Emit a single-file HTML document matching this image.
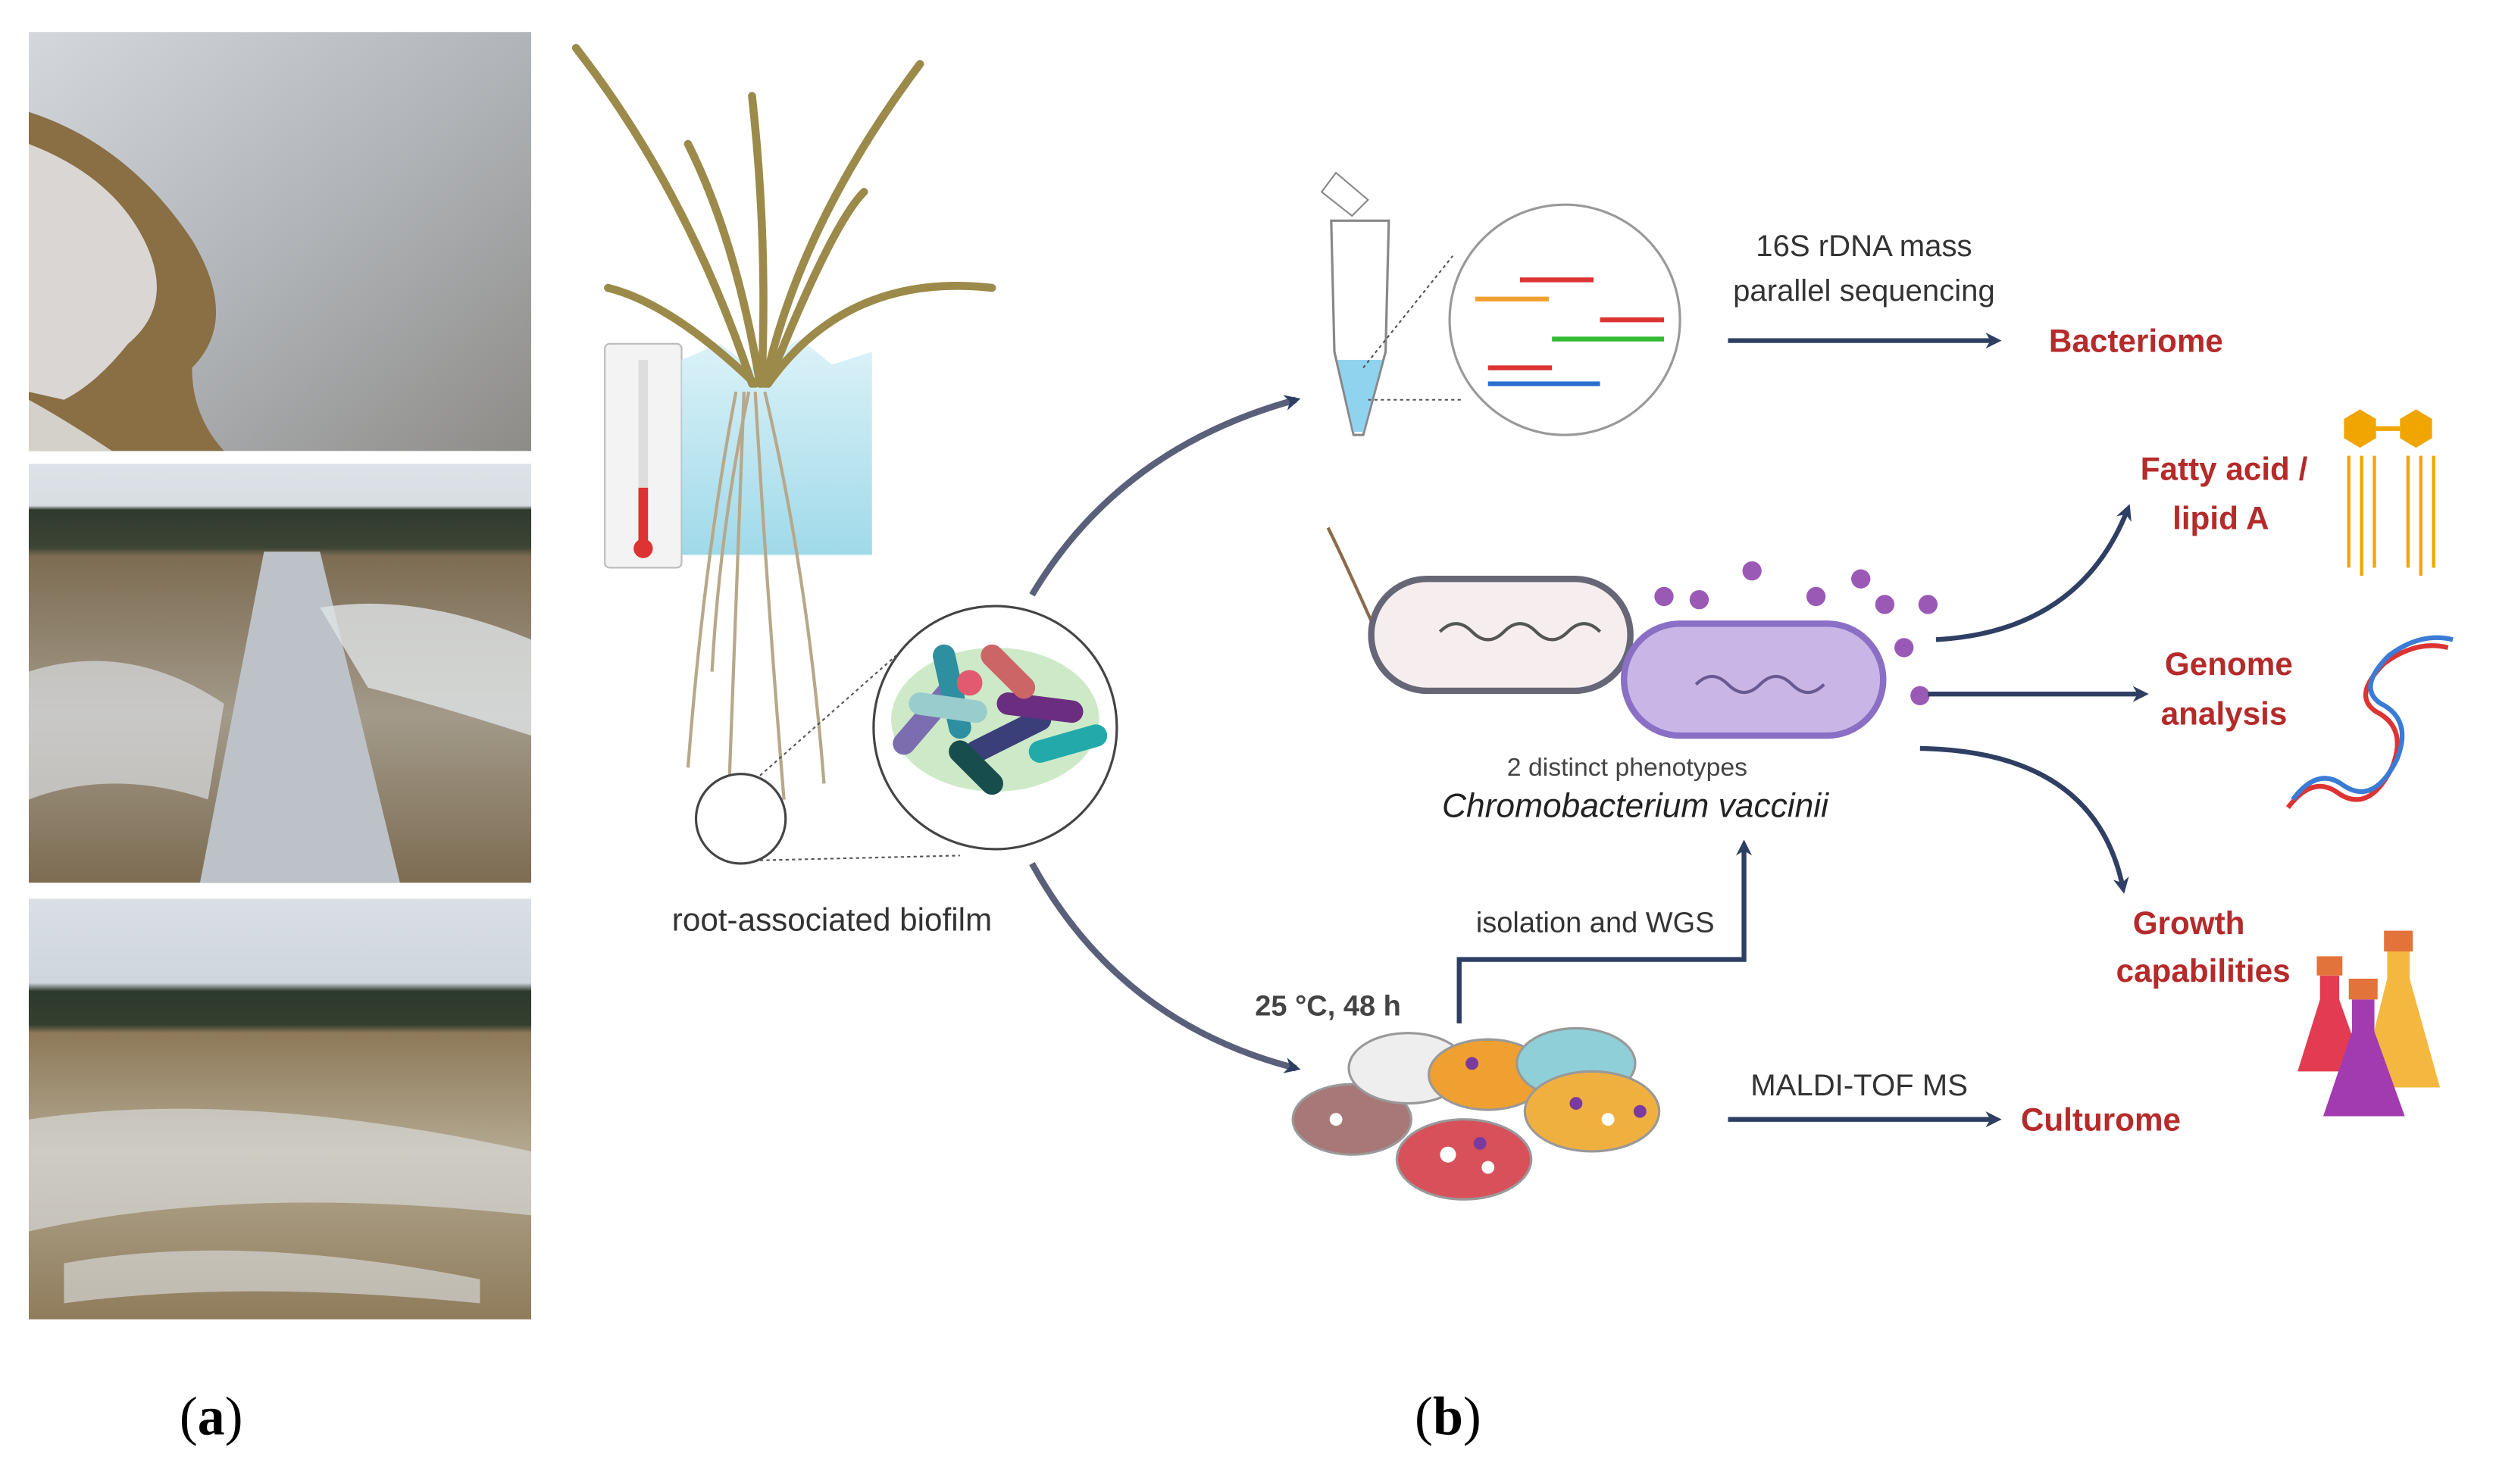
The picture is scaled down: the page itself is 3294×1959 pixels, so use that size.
<!DOCTYPE html>
<html><head><meta charset="utf-8"><style>
html,body{margin:0;padding:0;background:#fff}
svg{display:block}
</style></head><body>
<svg width="3294" height="1959" viewBox="0 0 1560 928" preserveAspectRatio="none" xmlns="http://www.w3.org/2000/svg" font-family="Liberation Sans, sans-serif">
<defs>
<linearGradient id="p1" x1="0" y1="0" x2="1" y2="1"><stop offset="0" stop-color="#d4d8dc"/><stop offset=".5" stop-color="#b1b5b9"/><stop offset="1" stop-color="#8e8c88"/></linearGradient>
<linearGradient id="p2" x1="0" y1="0" x2="0" y2="1"><stop offset="0" stop-color="#dde3e8"/><stop offset=".1" stop-color="#d8dde2"/><stop offset=".11" stop-color="#2f3a2e"/><stop offset=".2" stop-color="#3d4434"/><stop offset=".22" stop-color="#7d6c52"/><stop offset=".6" stop-color="#a39a8a"/><stop offset="1" stop-color="#7d6c52"/></linearGradient>
<linearGradient id="p3" x1="0" y1="0" x2="0" y2="1"><stop offset="0" stop-color="#d9dfe4"/><stop offset=".2" stop-color="#cfd6dc"/><stop offset=".22" stop-color="#2c3a2c"/><stop offset=".3" stop-color="#34402f"/><stop offset=".32" stop-color="#8e7a5a"/><stop offset=".6" stop-color="#b3a890"/><stop offset="1" stop-color="#8f7c5c"/></linearGradient>
<linearGradient id="ice" x1="0" y1="0" x2="0" y2="1"><stop offset="0" stop-color="#d6f0f7"/><stop offset="1" stop-color="#8fd3e6"/></linearGradient>
<marker id="ah" markerWidth="10" markerHeight="10" refX="7" refY="5" orient="auto" markerUnits="userSpaceOnUse"><path d="M0,0 L10,5 L0,10 L3,5 Z" fill="#2e3f63"/></marker>
</defs>

<!-- photos -->
<rect x="18" y="20" width="314" height="262" fill="url(#p1)"/>
<path d="M18,70 Q80,90 120,150 Q150,200 120,230 Q120,260 140,282 L18,282Z" fill="#8a6e44"/>
<path d="M18,90 Q70,110 90,150 Q110,190 80,215 Q60,240 40,250 L18,245Z" fill="#e6e9ec" opacity=".85"/>
<path d="M18,250 Q40,262 70,282 L18,282Z" fill="#e6e9ec" opacity=".8"/>
<rect x="18" y="290" width="314" height="262" fill="url(#p2)"/>
<path d="M165,345 L200,345 L250,552 L125,552Z" fill="#bcc2c7"/>
<path d="M200,380 Q260,370 332,400 L332,460 Q270,440 230,430Z" fill="#dfe3e6" opacity=".8"/>
<path d="M18,420 Q80,400 140,440 L130,500 Q70,480 18,500Z" fill="#d8dcdf" opacity=".7"/>
<rect x="18" y="562" width="314" height="263" fill="url(#p3)"/>
<path d="M18,700 Q150,680 332,720 L332,760 Q150,740 18,770Z" fill="#dfe3e6" opacity=".6"/>
<path d="M40,790 Q150,770 300,800 L300,815 Q150,800 40,815Z" fill="#dfe3e6" opacity=".6"/>

<!-- thermometer -->
<rect x="378" y="215" width="48" height="140" rx="3" fill="#f3f3f3" stroke="#bbb"/>
<rect x="399" y="225" width="6" height="115" fill="#ddd"/>
<rect x="399" y="305" width="6" height="35" fill="#d33"/>
<circle cx="402" cy="343" r="6" fill="#d33"/>
<!-- ice -->
<path d="M426,225 L450,215 L470,230 L500,212 L520,228 L545,220 L545,347 L426,347Z" fill="url(#ice)" opacity=".85"/>
<!-- plant leaves -->
<g stroke="#9c8a4a" stroke-width="5" fill="none" stroke-linecap="round">
<path d="M470,240 Q430,120 360,30"/><path d="M475,240 Q460,150 430,90"/><path d="M478,240 Q500,140 575,40"/>
<path d="M480,240 Q530,170 620,180"/><path d="M472,240 Q420,190 380,180"/><path d="M476,240 Q480,150 470,60"/>
<path d="M480,240 Q520,140 540,120"/>
</g>
<g stroke="#b7a88a" stroke-width="2" fill="none">
<path d="M460,245 Q440,350 430,480"/><path d="M465,245 Q460,380 455,510"/><path d="M472,245 Q480,380 490,500"/>
<path d="M478,245 Q505,360 515,490"/><path d="M468,245 Q450,330 445,420"/>
</g>
<circle cx="463" cy="512" r="28" fill="#fff" stroke="#444" stroke-width="1.5"/>
<line x1="475" y1="485" x2="560" y2="410" stroke="#555" stroke-dasharray="2,2"/>
<line x1="475" y1="538" x2="600" y2="535" stroke="#555" stroke-dasharray="2,2"/>
<circle cx="622" cy="455" r="76" fill="#fff" stroke="#444" stroke-width="1.5"/>
<ellipse cx="622" cy="450" rx="65" ry="45" fill="#cde9c7"/>
<g stroke-linecap="round" stroke-width="14">
<line x1="565" y1="465" x2="595" y2="430" stroke="#7b6db0"/><line x1="590" y1="410" x2="600" y2="455" stroke="#2d8f9f"/>
<line x1="610" y1="470" x2="650" y2="450" stroke="#3a3f7a"/><line x1="630" y1="440" x2="670" y2="445" stroke="#6b2d80"/>
<line x1="620" y1="410" x2="640" y2="430" stroke="#c66"/><line x1="650" y1="470" x2="685" y2="460" stroke="#2aa"/>
<line x1="575" y1="440" x2="610" y2="445" stroke="#9cc"/><line x1="600" y1="470" x2="620" y2="490" stroke="#184d4d"/>
</g>
<circle cx="606" cy="427" r="8" fill="#e25a6f"/>
<text x="520" y="582" font-size="20" text-anchor="middle" fill="#333">root-associated biofilm</text>

<path d="M645,372 Q700,280 810,250" stroke="#5a5f7a" stroke-width="4" fill="none" marker-end="url(#ah)"/>
<path d="M645,540 Q700,640 810,668" stroke="#5a5f7a" stroke-width="4" fill="none" marker-end="url(#ah)"/>

<!-- tube -->
<path d="M826,120 L835,108 L855,125 L845,135Z" fill="#fff" stroke="#888"/>
<path d="M832,138 L868,138 L866,220 L852,272 L846,272 L834,220Z" fill="#fff" stroke="#888" stroke-width="1.5"/>
<path d="M836,225 L864,225 L852,270 L846,270Z" fill="#8fd3ef"/>
<line x1="852" y1="230" x2="908" y2="160" stroke="#555" stroke-dasharray="2,2"/>
<line x1="855" y1="250" x2="915" y2="250" stroke="#555" stroke-dasharray="2,2"/>
<circle cx="978" cy="200" r="72" fill="#fff" stroke="#999" stroke-width="1.5"/>
<g stroke-width="3"><line x1="922" y1="187" x2="968" y2="187" stroke="#f0a030"/><line x1="950" y1="175" x2="996" y2="175" stroke="#d33"/>
<line x1="970" y1="212" x2="1040" y2="212" stroke="#3b3"/><line x1="1000" y1="200" x2="1040" y2="200" stroke="#d33"/>
<line x1="930" y1="240" x2="1000" y2="240" stroke="#2a6fd0"/><line x1="930" y1="230" x2="970" y2="230" stroke="#d33"/></g>

<text x="1165" y="160" font-size="19" text-anchor="middle" fill="#333">16S rDNA mass</text>
<text x="1165" y="188" font-size="19" text-anchor="middle" fill="#333">parallel sequencing</text>
<line x1="1080" y1="213" x2="1248" y2="213" stroke="#2e3f63" stroke-width="3" marker-end="url(#ah)"/>
<text x="1335" y="220" font-size="20" font-weight="bold" text-anchor="middle" fill="#b52a2a">Bacteriome</text>

<!-- bacteria -->
<path d="M860,395 Q840,350 830,330" stroke="#8a6a4a" stroke-width="2" fill="none"/>
<rect x="857" y="362" width="162" height="70" rx="35" fill="#f6eeee" stroke="#667" stroke-width="4"/>
<rect x="1015" y="390" width="162" height="70" rx="35" fill="#c9b6e6" stroke="#8a6fc5" stroke-width="4"/>
<path d="M900,395 q10,-10 20,0 q10,10 20,0 q10,-10 20,0 q10,10 20,0 q10,-10 20,0" stroke="#555" stroke-width="2" fill="none"/>
<path d="M1060,428 q10,-10 20,0 q10,10 20,0 q10,-10 20,0 q10,10 20,0" stroke="#6a5a90" stroke-width="2" fill="none"/>
<g fill="#9b59b6"><circle cx="1095" cy="357" r="6"/><circle cx="1163" cy="362" r="6"/><circle cx="1178" cy="378" r="6"/><circle cx="1205" cy="378" r="6"/><circle cx="1190" cy="405" r="6"/><circle cx="1200" cy="435" r="6"/><circle cx="1135" cy="373" r="6"/><circle cx="1040" cy="373" r="6"/><circle cx="1062" cy="375" r="6"/></g>
<text x="1017" y="485" font-size="16" text-anchor="middle" fill="#444">2 distinct phenotypes</text>
<text x="1022" y="511" font-size="21" font-style="italic" text-anchor="middle" fill="#222">Chromobacterium vaccinii</text>

<path d="M1210,400 Q1300,395 1330,318" stroke="#2e3f63" stroke-width="3" fill="none" marker-end="url(#ah)"/>
<line x1="1205" y1="434" x2="1340" y2="434" stroke="#2e3f63" stroke-width="3" marker-end="url(#ah)"/>
<path d="M1200,468 Q1310,470 1327,556" stroke="#2e3f63" stroke-width="3" fill="none" marker-end="url(#ah)"/>

<g font-size="20" font-weight="bold" text-anchor="middle" fill="#b52a2a">
<text x="1390" y="300">Fatty acid /</text><text x="1388" y="331">lipid A</text>
<text x="1393" y="422">Genome</text><text x="1390" y="453">analysis</text>
<text x="1368" y="584">Growth</text><text x="1377" y="614">capabilities</text>
<text x="1313" y="707">Culturome</text></g>

<polygon points="1465,262 1475,256 1485,262 1485,274 1475,280 1465,274" fill="#f0a500"/>
<polygon points="1500,262 1510,256 1520,262 1520,274 1510,280 1500,274" fill="#f0a500"/>
<line x1="1485" y1="268" x2="1500" y2="268" stroke="#f0a500" stroke-width="3"/>
<g stroke="#f0a500" stroke-width="2" fill="none">
<path d="M1468,285 l0,70"/><path d="M1476,285 l0,75"/><path d="M1484,285 l0,70"/><path d="M1505,285 l0,70"/><path d="M1513,285 l0,75"/><path d="M1521,285 l0,70"/></g>
<path d="M1430,505 q15,-20 30,-10 q20,15 35,-15 q10,-25 -10,-35 q-15,-10 5,-30 q20,-15 40,-10" stroke="#d33" stroke-width="3" fill="none"/>
<path d="M1433,500 q15,-20 30,-10 q20,15 35,-15 q10,-25 -10,-35 q-15,-10 5,-30 q20,-15 40,-10" stroke="#3a7bd5" stroke-width="3" fill="none"/>
<g><path d="M1450,610 L1462,610 L1462,625 L1478,670 L1436,670 L1450,625Z" fill="#e33c52"/><rect x="1448" y="598" width="16" height="12" fill="#e2733a"/>
<path d="M1492,595 L1506,595 L1506,612 L1525,680 L1475,680 L1492,612Z" fill="#f4b840"/><rect x="1490" y="582" width="18" height="13" fill="#e2733a"/>
<path d="M1470,625 L1484,625 L1484,645 L1503,698 L1452,698 L1470,645Z" fill="#a23bb0"/><rect x="1468" y="612" width="18" height="13" fill="#e2733a"/></g>

<path d="M912,640 L912,600 L1090,600 L1090,528" stroke="#2e3f63" stroke-width="3" fill="none" marker-end="url(#ah)"/>
<text x="997" y="583" font-size="18" text-anchor="middle" fill="#333">isolation and WGS</text>
<text x="830" y="635" font-size="18" font-weight="bold" text-anchor="middle" fill="#444">25 °C, 48 h</text>

<g stroke="#999" stroke-width="1.5">
<ellipse cx="845" cy="700" rx="37" ry="22" fill="#a87878"/>
<ellipse cx="880" cy="668" rx="37" ry="22" fill="#eee"/>
<ellipse cx="930" cy="672" rx="37" ry="22" fill="#f0a030"/>
<ellipse cx="985" cy="665" rx="37" ry="22" fill="#8fcfd8"/>
<ellipse cx="995" cy="695" rx="42" ry="25" fill="#f0b040"/>
<ellipse cx="915" cy="725" rx="42" ry="25" fill="#d8505a"/></g>
<g fill="#fff"><circle cx="835" cy="700" r="4"/><circle cx="905" cy="722" r="5"/><circle cx="930" cy="730" r="4"/><circle cx="1005" cy="700" r="4"/></g>
<g fill="#7a3aa0"><circle cx="920" cy="665" r="4"/><circle cx="985" cy="690" r="4"/><circle cx="1025" cy="695" r="4"/><circle cx="925" cy="715" r="4"/></g>

<text x="1162" y="685" font-size="19" text-anchor="middle" fill="#333">MALDI-TOF MS</text>
<line x1="1080" y1="700" x2="1248" y2="700" stroke="#2e3f63" stroke-width="3" marker-end="url(#ah)"/>

<text x="132" y="897" font-size="34" text-anchor="middle" font-family="Liberation Serif, serif">(<tspan font-weight="bold">a</tspan>)</text>
<text x="905" y="897" font-size="34" text-anchor="middle" font-family="Liberation Serif, serif">(<tspan font-weight="bold">b</tspan>)</text>
</svg>
</body></html>
